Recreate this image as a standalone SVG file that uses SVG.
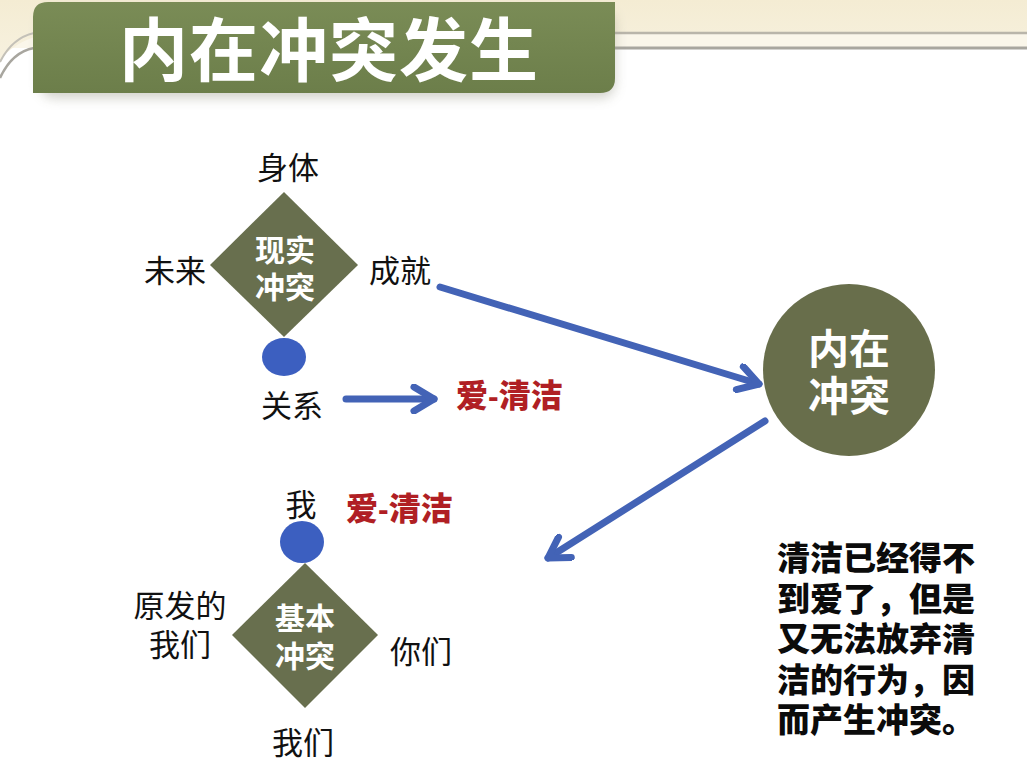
<svg xmlns="http://www.w3.org/2000/svg" width="1027" height="774" viewBox="0 0 1027 774">
<defs>
<style>
.lbl{font-family:"Liberation Sans","Noto Sans CJK SC",sans-serif;font-size:31px;fill:#111;text-anchor:middle;dominant-baseline:central}
.wb{font-family:"Liberation Sans","Noto Sans CJK SC",sans-serif;font-weight:bold;fill:#fff;text-anchor:middle;dominant-baseline:central}
.red{font-family:"Liberation Sans","Noto Sans CJK SC",sans-serif;font-weight:900;font-size:32px;fill:#B01F24;dominant-baseline:central}
.note{font-family:"Liberation Sans","Noto Sans CJK SC",sans-serif;font-weight:900;font-size:33px;fill:#0b0b0b;dominant-baseline:central}
.diam{fill:#686F4E}
.dot{fill:#3C5FC0}
.arr{stroke:#4363B6;stroke-width:7;fill:none;stroke-linecap:round}
</style>
<linearGradient id="cream" x1="0" y1="0" x2="0" y2="1">
<stop offset="0" stop-color="#F4ECD3"/>
<stop offset="1" stop-color="#F7F1DF"/>
</linearGradient>
<linearGradient id="ban" x1="0" y1="0" x2="0" y2="1">
<stop offset="0" stop-color="#7A8C56"/>
<stop offset="1" stop-color="#6C7E4A"/>
</linearGradient>
<filter id="sh" x="-10%" y="-20%" width="120%" height="160%">
<feGaussianBlur stdDeviation="6"/>
</filter>
<marker id="head" viewBox="0 0 30 30" refX="24" refY="15" markerWidth="30" markerHeight="30" markerUnits="userSpaceOnUse" orient="auto">
<path d="M4,3 L24,15 L4,27" fill="none" stroke="#4363B6" stroke-width="7" stroke-linecap="round" stroke-linejoin="round"/>
</marker>
</defs>
<rect width="1027" height="774" fill="#fff"/>
<g id="background">
<rect x="0" y="0" width="1027" height="33" fill="url(#cream)"/>
<rect x="0" y="33" width="1027" height="15" fill="#FAF6EA"/>
<path d="M0,0 H1027 V33 H60 Q20,35 0,60 Z" fill="url(#cream)"/>
<line x1="600" y1="33" x2="1027" y2="33" stroke="#B9B5AA" stroke-width="2.5"/>
<line x1="600" y1="48" x2="1027" y2="48" stroke="#A8A69F" stroke-width="3"/>
<path d="M34,33 Q12,38 0,62" fill="none" stroke="#C4C1B8" stroke-width="2"/>
<path d="M34,48 Q12,52 0,78" fill="none" stroke="#A8A69F" stroke-width="2.5"/>
</g>
<g id="title">
<rect x="40" y="10" width="575" height="88" rx="14" fill="#9a9a8a" opacity="0.45" filter="url(#sh)"/>
<path d="M48,2 H615 V78 Q615,93 600,93 H33 V17 Q33,2 48,2 Z" fill="url(#ban)"/>
<text x="329" y="52" class="wb" style="font-size:69px;letter-spacing:1px">内在冲突发生</text>
</g>
<g id="connectors">
<line x1="440" y1="287" x2="759" y2="384" class="arr" marker-end="url(#head)"/>
<line x1="765" y1="421" x2="548" y2="558" class="arr" marker-end="url(#head)"/>
<line x1="346" y1="399" x2="434" y2="399" class="arr" marker-end="url(#head)"/>
</g>
<g id="reality">
<polygon points="284,192 358,265 284,337 210,265" class="diam"/>
<text class="wb" style="font-size:30px"><tspan x="285" y="250">现实</tspan><tspan x="285" y="287">冲突</tspan></text>
</g>
<g id="reality-labels">
<text x="288" y="168" class="lbl">身体</text>
<text x="175" y="271" class="lbl">未来</text>
<text x="400" y="271" class="lbl">成就</text>
<ellipse cx="284" cy="357" rx="22" ry="19" class="dot"/>
<text x="292" y="406" class="lbl">关系</text>
<text x="456" y="396" class="red">爱-清洁</text>
</g>
<g id="inner">
<circle cx="849" cy="370" r="86" fill="#686E4B"/>
<text class="wb" style="font-size:41px"><tspan x="849" y="350">内在</tspan><tspan x="849" y="397">冲突</tspan></text>
</g>
<g id="basic">
<polygon points="305,563 378,635 305,708 232,635" class="diam"/>
<text class="wb" style="font-size:30px"><tspan x="305" y="618">基本</tspan><tspan x="305" y="656">冲突</tspan></text>
</g>
<g id="basic-labels">
<text x="301" y="505" class="lbl">我</text>
<text x="346" y="509" class="red">爱-清洁</text>
<ellipse cx="302" cy="542" rx="22" ry="21" class="dot"/>
<text class="lbl"><tspan x="180" y="606">原发的</tspan><tspan x="180" y="645">我们</tspan></text>
<text x="421" y="652" class="lbl">你们</text>
<text x="303" y="743" class="lbl">我们</text>
</g>
<g id="note">
<text class="note"><tspan x="777" y="558">清洁已经得不</tspan><tspan x="777" y="599">到爱了，但是</tspan><tspan x="777" y="639">又无法放弃清</tspan><tspan x="777" y="680">洁的行为，因</tspan><tspan x="777" y="720">而产生冲突。</tspan></text>
</g>
</svg>
